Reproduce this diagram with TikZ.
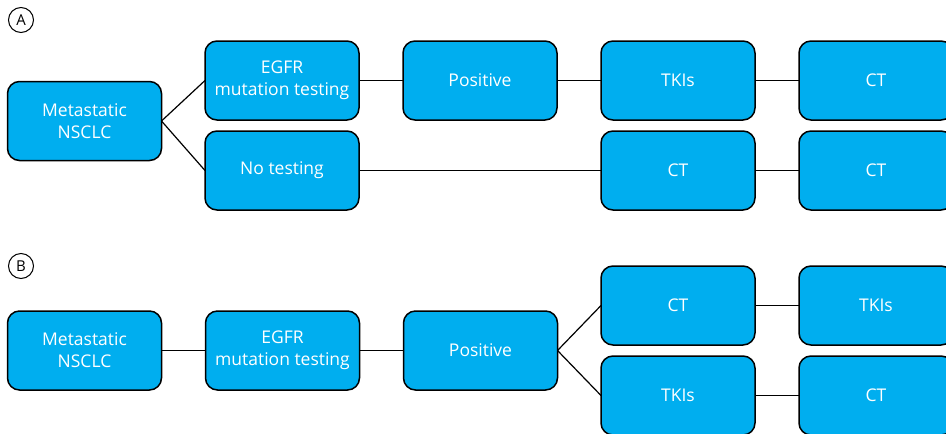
\documentclass[tikz,border=0pt]{standalone}
\usepackage{fontspec}
\setmainfont{Open Sans}
\usetikzlibrary{positioning}
\definecolor{boxblue}{RGB}{0,174,239}

\begin{document}
\begin{tikzpicture}[x=1pt,y=-1pt,node distance=44pt,
  box/.style={draw=black,fill=boxblue,rounded corners=12pt,line width=1.5pt,
    outer sep=0pt,minimum width=154pt,minimum height=79pt,text=white,align=center,
    font=\fontsize{17.5}{22}\selectfont},
  tag/.style={draw=black,circle,line width=1pt,inner sep=0pt,minimum size=25pt,
    font=\fontsize{15}{18}\selectfont},
  link/.style={line width=1.2pt}]
\clip (0,0) rectangle (946,434);
\useasboundingbox (0,0) rectangle (946,434);
% A
\node[tag] (ta) at (21,20) {A};
\node[box] (meta) at (84.5,121) {Metastatic\\NSCLC};
\node[box] (egfr) at (282,80.5) {EGFR\\mutation testing};
\node[box,below=11pt of egfr] (none) {No testing};
\node[box,right=of egfr] (pos) {Positive};
\node[box,right=of pos] (tki) {TKIs};
\node[box,right=of tki] (ct) {CT};
\node[box,below=11pt of tki] (ctb) {CT};
\node[box,below=11pt of ct] (ctc) {CT};
%
\draw[link] (meta.east) -- (egfr.west);
\draw[link] (meta.east) -- (none.west);
\draw[link] (egfr) -- (pos);
\draw[link] (pos) -- (tki);
\draw[link] (tki) -- (ct);
\draw[link] (none) -- (ctb);
\draw[link] (ctb) -- (ctc);
% B
\node[tag] (tb) at (21,266) {B};
\node[box] (metab) at (84.5,350.5) {Metastatic\\NSCLC};
\node[box,right=of metab] (egfrb) {EGFR\\mutation testing};
\node[box,right=of egfrb] (posb) {Positive};
\node[box] (ctd) at (678,305.5) {CT};
\node[box,below=11pt of ctd] (tkib) {TKIs};
\node[box,right=of ctd] (tkic) {TKIs};
\node[box,right=of tkib] (cte) {CT};
%
\draw[link] (metab) -- (egfrb);
\draw[link] (egfrb) -- (posb);
\draw[link] (posb.east) -- (ctd.west);
\draw[link] (posb.east) -- (tkib.west);
\draw[link] (ctd) -- (tkic);
\draw[link] (tkib) -- (cte);
\end{tikzpicture}
\end{document}
